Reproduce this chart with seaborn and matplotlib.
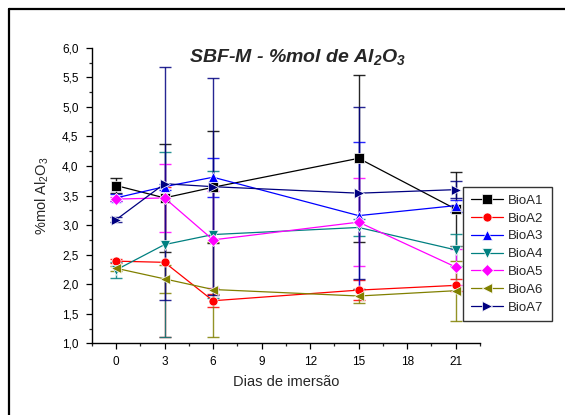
import numpy as np
import pandas as pd
import matplotlib
matplotlib.use("Agg")
import matplotlib.pyplot as plt
import seaborn as sns
from matplotlib.ticker import MultipleLocator, FuncFormatter

days = [0, 3, 6, 15, 21]
series = ["BioA1", "BioA2", "BioA3", "BioA4", "BioA5", "BioA6", "BioA7"]

bioa1 = [3.67, 3.46, 3.64, 4.13, 3.27]
bioa2 = [2.39, 2.37, 1.72, 1.90, 1.98]
bioa3 = [3.46, 3.65, 3.81, 3.16, 3.33]
bioa4 = [2.24, 2.67, 2.84, 2.96, 2.58]
bioa5 = [3.44, 3.46, 2.75, 3.05, 2.29]
bioa6 = [2.27, 2.09, 1.91, 1.80, 1.89]
bioa7 = [3.09, 3.70, 3.65, 3.54, 3.60]

err1 = [0.12, 0.91, 0.95, 1.41, 0.63]
err2 = [0.03, 1.27, 0.11, 0.17, 0.10]
err3 = [0.06, 0.05, 0.33, 1.24, 0.10]
err4 = [0.14, 1.56, 1.08, 0.15, 0.27]
err5 = [0.03, 0.57, 0.82, 0.75, 0.30]
err6 = [0.04, 0.24, 0.81, 0.12, 0.51]
err7 = [0.04, 1.97, 1.84, 1.46, 0.14]

values = [bioa1, bioa2, bioa3, bioa4, bioa5, bioa6, bioa7]
errors = [err1, err2, err3, err4, err5, err6, err7]
colors = ["#000000", "#FF0000", "#0000FF", "#008080", "#FF00FF", "#808000", "#000080"]
markers = ["s", "o", "^", "v", "D", "<", ">"]

sns.set_style("ticks")
plt.rcParams["font.family"] = ["Liberation Sans", "DejaVu Sans"]
plt.rcParams["mathtext.fontset"] = "custom"
plt.rcParams["mathtext.rm"] = "Liberation Sans"
plt.rcParams["mathtext.it"] = "Liberation Sans:italic"
plt.rcParams["mathtext.bf"] = "Liberation Sans:bold"
plt.rcParams["mathtext.bfit"] = "Liberation Sans:italic:bold"

rows = []
for s, vals in zip(series, values):
    for d, v in zip(days, vals):
        rows.append({"dia": d, "val": v, "serie": s})
df = pd.DataFrame(rows)

fig = plt.figure(figsize=(5.65, 4.15), dpi=100)
ax = fig.add_axes([0.1623, 0.1728, 0.6873, 0.712])

# error bars
for s, vals, errs, c in zip(series, values, errors, colors):
    ax.errorbar(days, vals, yerr=errs, fmt="none", ecolor=c, elinewidth=1.0,
                capsize=4, capthick=1.0, alpha=0.85, zorder=2)

sns.lineplot(data=df, x="dia", y="val", hue="serie", style="serie",
             palette=dict(zip(series, colors)),
             markers=dict(zip(series, markers)), dashes=False,
             markersize=6.5, markeredgewidth=0.5, linewidth=0.9,
             ax=ax, zorder=3)

ax.set_xlim(-1.5, 22.5)
ax.set_ylim(1.0, 6.0)
ax.xaxis.set_major_locator(MultipleLocator(3))
ax.xaxis.set_minor_locator(MultipleLocator(1.5))
ax.yaxis.set_major_locator(MultipleLocator(0.5))
ax.yaxis.set_minor_locator(MultipleLocator(0.25))
ax.yaxis.set_major_formatter(FuncFormatter(lambda v, p: f"{v:.1f}".replace(".", ",")))
ax.xaxis.set_major_formatter(FuncFormatter(lambda v, p: f"{int(round(v))}"))
ax.tick_params(which="major", direction="out", length=4.5, width=0.9, labelsize=8.5,
               pad=5, colors="black")
ax.tick_params(which="minor", direction="out", length=2.5, width=0.9)
for sp in ["top", "right"]:
    ax.spines[sp].set_visible(False)
for sp in ["left", "bottom"]:
    ax.spines[sp].set_color("black")
    ax.spines[sp].set_linewidth(1.0)

ax.set_xlabel("Dias de imersão", fontsize=10.5, labelpad=5)
ax.set_ylabel("%mol Al$_2$O$_3$", fontsize=10.5, labelpad=8)

fig.text(298 / 565, 1 - 57 / 415, r"SBF-M - %mol de Al$_\mathbfit{2}$O$_\mathbfit{3}$",
         fontsize=14, fontweight="bold", fontstyle="italic", ha="center", va="center")

handles, labels = ax.get_legend_handles_labels()
leg = fig.legend(handles, labels, loc="upper left",
                 bbox_to_anchor=(463.3 / 565, 1 - 186.7 / 415), borderaxespad=0,
                 frameon=True, fancybox=False, edgecolor="black", fontsize=9.5,
                 handlelength=2.4, labelspacing=0.42, handletextpad=0.4,
                 borderpad=0.6)
leg.get_frame().set_linewidth(1.0)
if ax.get_legend():
    ax.get_legend().remove()

# figure frame (left and top edges visible)
fig.add_artist(plt.Line2D([9 / 565, 9 / 565], [0, 1 - 9 / 415], transform=fig.transFigure,
                          color="black", linewidth=1.6))
fig.add_artist(plt.Line2D([9 / 565, 1], [1 - 9 / 415, 1 - 9 / 415], transform=fig.transFigure,
                          color="black", linewidth=1.6))

fig.savefig("out.png", dpi=100)
